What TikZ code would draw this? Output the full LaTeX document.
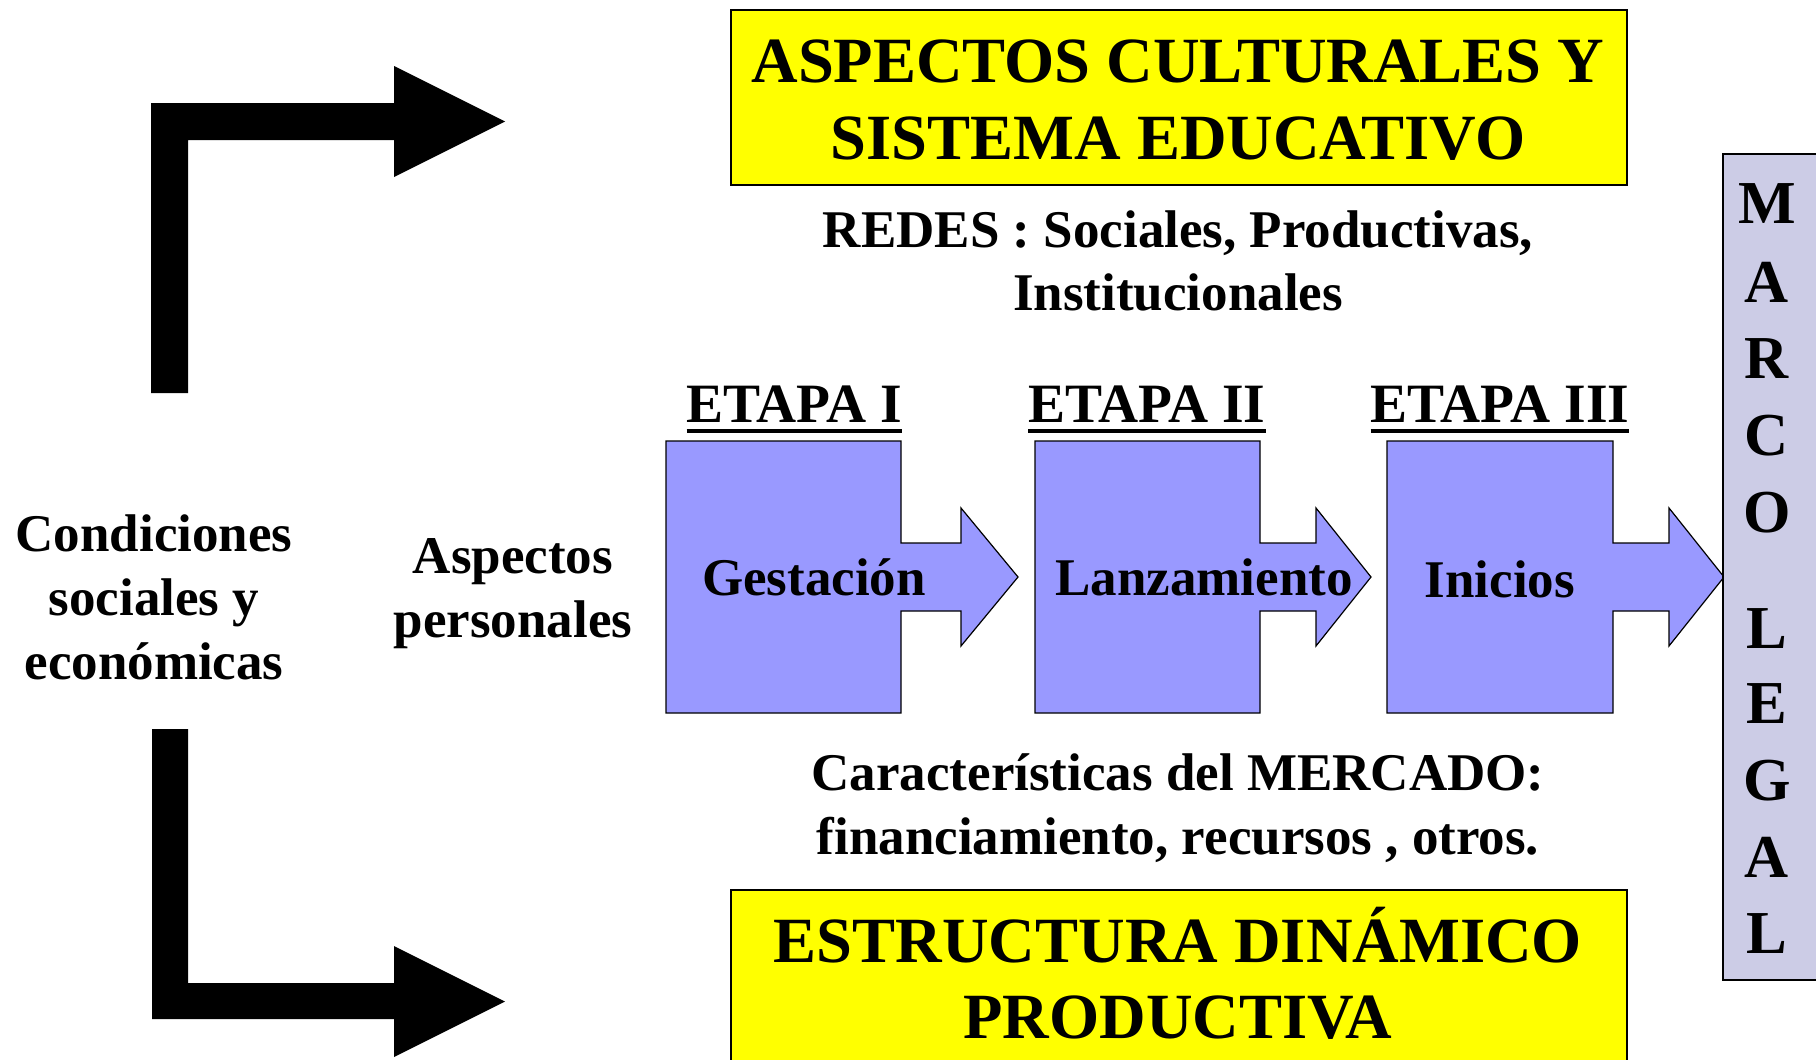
\documentclass[tikz,border=0pt]{standalone}
\usepackage{fontspec}
\setmainfont{Liberation Serif}
\usetikzlibrary{calc}
\definecolor{ylw}{RGB}{255,255,0}
\definecolor{stagefill}{RGB}{153,153,255}
\definecolor{legalfill}{RGB}{204,204,230}
\tikzset{
  lbl/.style={inner sep=0pt, anchor=base, font=\bfseries\fontsize{53}{64}\selectfont},
  etapa/.style={inner sep=0pt, anchor=base, font=\bfseries\fontsize{55.5}{64}\selectfont},
  big/.style={inner sep=0pt, anchor=base, font=\bfseries\fontsize{64.5}{76}\selectfont},
  vlet/.style={inner sep=0pt, anchor=base, font=\bfseries\fontsize{61}{72}\selectfont},
  ybox/.style={draw=black, line width=1.5pt, fill=ylw, inner sep=0pt, anchor=north west},
  stagebox/.style={draw=black, line width=1.2pt, fill=stagefill},
  blockarrow/.style={fill=black},
  uline/.style={line width=4pt},
}
\begin{document}
\begin{tikzpicture}[x=1pt,y=-1pt]
\clip (0,0) rectangle (1816,1060);
\fill[white] (0,0) rectangle (1816,1060);

% black bent arrows
\fill[blockarrow] (151,393) -- (151,103) -- (394,103) -- (394,66) -- (505,121.5)
  -- (394,177) -- (394,140) -- (188,140) -- (188,393) -- cycle;
\fill[blockarrow] (152,729) -- (188,729) -- (188,983) -- (394,983) -- (394,946)
  -- (505,1001.5) -- (394,1057) -- (394,1019) -- (152,1019) -- cycle;

% yellow boxes
\node[ybox, minimum width=896pt, minimum height=175pt] (cultbox) at (730,9) {};
\node[big] (cult1) at (1178,82) {ASPECTOS CULTURALES Y};
\node[big] (cult2) at (1178,159) {SISTEMA EDUCATIVO};

\node[ybox, minimum width=896pt, minimum height=200pt] (estbox) at (730,889) {};
\node[big] (est1) at (1178,962) {ESTRUCTURA DINÁMICO};
\node[big] (est2) at (1178,1038) {PRODUCTIVA};

% redes / mercado
\node[lbl] (redes1) at (1178,247) {REDES : Sociales, Productivas,};
\node[lbl] (redes2) at (1178,310) {Institucionales};
\node[lbl] (merc1) at (1178,790) {Características del MERCADO:};
\node[lbl] (merc2) at (1178,854) {financiamiento, recursos , otros.};

% left texts
\node[lbl] (cond1) at (154,551) {Condiciones};
\node[lbl] (cond2) at (154,615) {sociales y};
\node[lbl] (cond3) at (154,679) {económicas};
\node[lbl] (asp1) at (513,573) {Aspectos};
\node[lbl] (asp2) at (513,637) {personales};

% stages
\foreach \a/\b/\c/\d in {666/901/961/1018, 1035/1260/1316/1371, 1387/1613/1669/1724}{
  \draw[stagebox] (\a,441) -- (\b,441) -- (\b,543) -- (\c,543) -- (\c,508) -- (\d,577)
    -- (\c,646) -- (\c,611) -- (\b,611) -- (\b,713) -- (\a,713) -- cycle;
}
\node[lbl] (st1) at (814,595) {Gestación};
\node[lbl] (st2) at (1204,595) {Lanzamiento};
\node[lbl] (st3) at (1500,597) {Inicios};

\node[etapa] (et1) at (794.5,422) {ETAPA I};
\node[etapa] (et2) at (1147,422) {ETAPA II};
\node[etapa] (et3) at (1500,422) {ETAPA III};
\foreach \n in {et1,et2,et3}{
  \draw[uline] ($(\n.base west)+(0,9)$) -- ($(\n.base east)+(0,9)$);
}

% marco legal
\node[draw=black, line width=1.5pt, fill=legalfill, inner sep=0pt, anchor=north west,
  minimum width=120pt, minimum height=826pt] (marco) at (1722,153) {};
\foreach \l/\y [count=\i] in {M/223,A/302,R/378,C/455,O/532,L/648,E/723,G/800,A/877,L/953}{
  \node[vlet] (ml\i) at (1767,\y) {\l};
}
\end{tikzpicture}
\end{document}
